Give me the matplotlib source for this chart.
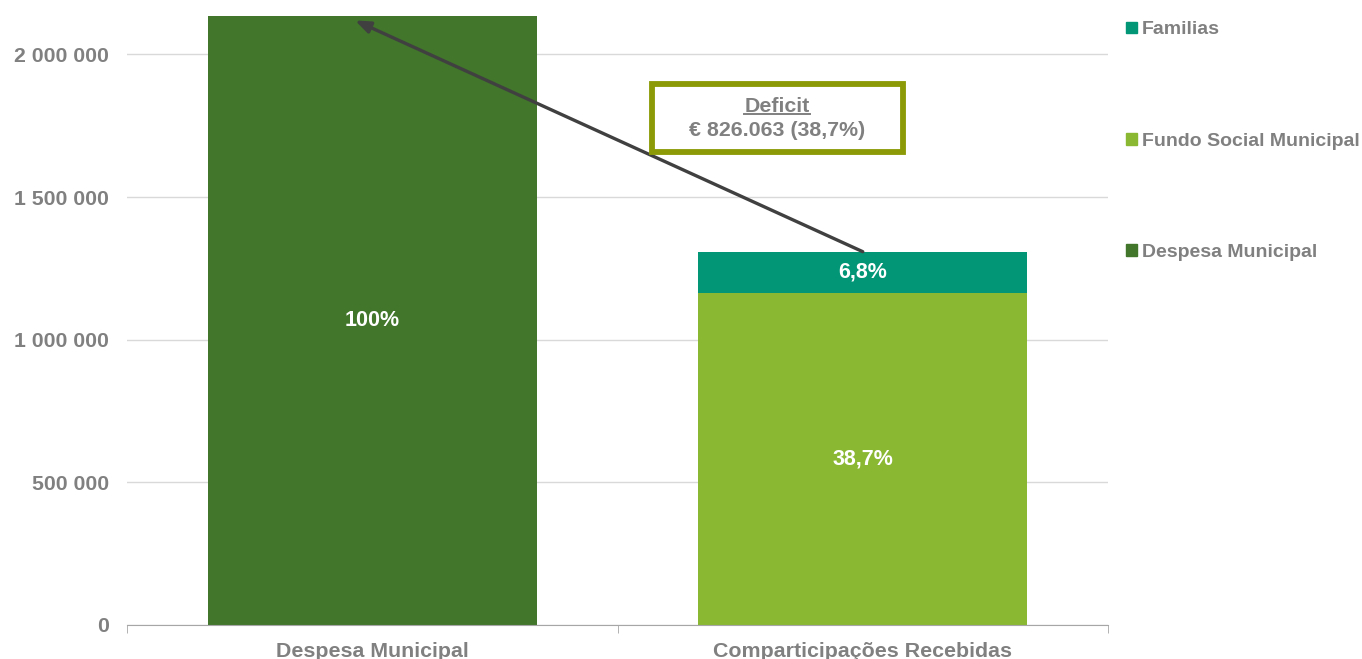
import matplotlib.pyplot as plt
from matplotlib.patches import Rectangle, Patch

plt.rcParams['font.family'] = ['Liberation Sans', 'DejaVu Sans']

categories = ["Despesa Municipal", "Comparticipações Recebidas"]
despesa = [2134530, 0]
fundo = [0, 1163000]
familias = [0, 145500]
deficit = 826063
labels_despesa = ["100%", ""]
labels_fundo = ["", "38,7%"]
labels_familias = ["", "6,8%"]

GRAY = "#808080"
C_DESP = "#41762B"
C_FUNDO = "#8AB833"
C_FAM = "#029676"
C_BOX = "#8B9A06"

fig = plt.figure(figsize=(13.62, 6.59), dpi=100)
ax = fig.add_axes([127 / 1362, 34 / 659, 981 / 1362, 609 / 659])

x = [0, 1]
w = 0.67
b1 = ax.bar(x, despesa, w, color=C_DESP, zorder=2)
b2 = ax.bar(x, fundo, w, color=C_FUNDO, zorder=2)
b3 = ax.bar(x, familias, w, bottom=fundo, color=C_FAM, zorder=2)

for bars, labs in ((b1, labels_despesa), (b2, labels_fundo), (b3, labels_familias)):
    ax.bar_label(bars, labels=labs, label_type='center', color='white',
                 fontsize=15.5, fontweight='bold')

ax.set_xlim(-0.5, 1.5)
ax.set_ylim(0, despesa[0])
ax.set_yticks([0, 500000, 1000000, 1500000, 2000000])
ax.set_yticklabels(["0", "500 000", "1 000 000", "1 500 000", "2 000 000"])
ax.tick_params(axis='y', length=0, pad=13, labelsize=15.3, labelcolor=GRAY)
for lab in ax.get_yticklabels():
    lab.set_fontweight('bold')
ax.set_xticks([-0.5, 0.5, 1.5], minor=True)
ax.set_xticks(x)
ax.set_xticklabels(categories, fontsize=15.4, fontweight='bold', color=GRAY)
ax.tick_params(axis='x', which='major', length=0, pad=12)
ax.tick_params(axis='x', which='minor', length=6, color="#A6A6A6", direction='out')
ax.grid(axis='y', color="#D9D9D9", linewidth=1, zorder=0)
for s in ('top', 'right', 'left'):
    ax.spines[s].set_visible(False)
ax.spines['bottom'].set_color("#A6A6A6")

# deficit arrow: from top of the received stack back to the expense bar
top2 = fundo[1] + familias[1]
ax.annotate("", xy=(-0.035, 2119000), xytext=(1, top2),
            arrowprops=dict(arrowstyle='-|>,head_length=0.9,head_width=0.35',
                            color="#404040", lw=2.4, shrinkA=0, shrinkB=0),
            zorder=4, annotation_clip=False)

# deficit box
fx0, fy0 = 652 / 1362, (659 - 152) / 659
fw, fh = 251 / 1362, 68 / 659
box = Rectangle((fx0, fy0), fw, fh, transform=fig.transFigure,
                facecolor='white', edgecolor=C_BOX, linewidth=4.2, zorder=5)
fig.patches.append(box)
cx = 777 / 1362
t1 = fig.text(cx, (659 - 106) / 659, "Deficit", ha='center', va='center',
              fontsize=15.4, fontweight='bold', color=GRAY, zorder=6)
fig.text(cx, (659 - 131) / 659, "€ " + f"{deficit:,}".replace(",", ".") + " (38,7%)",
         ha='center', va='center', fontsize=15.4, fontweight='bold', color=GRAY, zorder=6)
fig.canvas.draw()
bb = t1.get_window_extent().transformed(fig.transFigure.inverted())
fig.add_artist(plt.Line2D([bb.x0, bb.x1], [bb.y0 + 0.003, bb.y0 + 0.003],
                          transform=fig.transFigure, color=GRAY, lw=1.4, zorder=6))

handles = [Patch(color=C_FAM), Patch(color=C_FUNDO), Patch(color=C_DESP)]
names = ["Familias", "Fundo Social Municipal", "Despesa Municipal"]
leg = fig.legend(handles, names, loc='upper left', bbox_to_anchor=(1126 / 1362, 1 - 21.5 / 659),
                 frameon=False, handlelength=0.55, handleheight=0.55, handletextpad=0.25,
                 labelspacing=4.85, borderaxespad=0, borderpad=0,
                 prop={'size': 14, 'weight': 'bold'})
for t in leg.get_texts():
    t.set_color(GRAY)

fig.savefig("out.png", dpi=100)
